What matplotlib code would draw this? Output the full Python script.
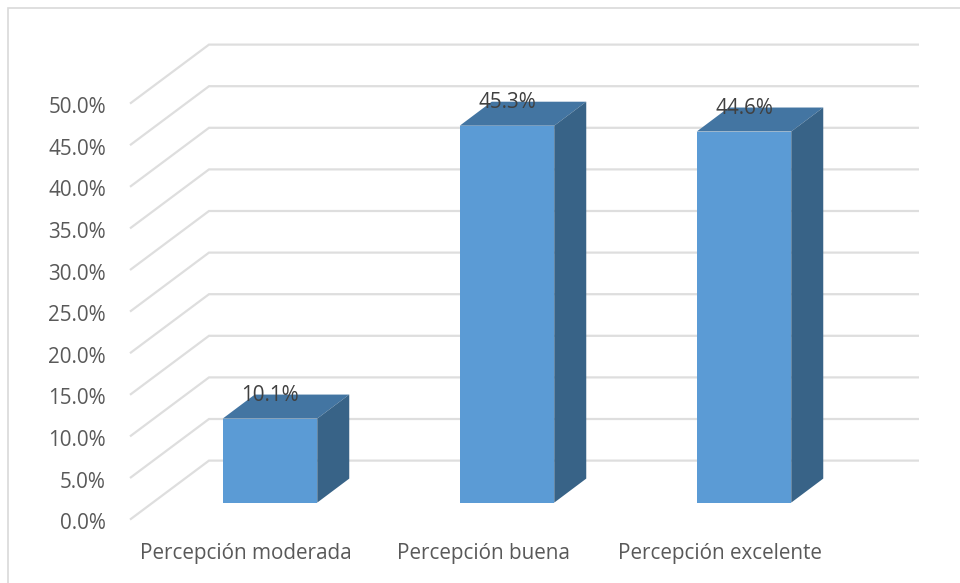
import matplotlib
matplotlib.use("Agg")
import matplotlib.pyplot as plt
from matplotlib.patches import Polygon

categories = ["Percepción moderada", "Percepción buena", "Percepción excelente"]
values = [10.1, 45.3, 44.6]
value_labels = ["10.1%", "45.3%", "44.6%"]
ticks = [0, 5, 10, 15, 20, 25, 30, 35, 40, 45, 50]
tick_labels = ["0.0%", "5.0%", "10.0%", "15.0%", "20.0%", "25.0%", "30.0%",
               "35.0%", "40.0%", "45.0%", "50.0%"]

W, H = 960, 583
FRONT = "#5B9BD5"
TOP = "#4375A2"
SIDE = "#386387"
GRID = "#DEDEDE"
FRAME = "#D9D9D9"
TEXT = "#595959"
FS = 14.9

plt.rcParams["font.family"] = ["Open Sans", "DejaVu Sans"]
fig = plt.figure(figsize=(W / 100, H / 100), dpi=100)
ax = fig.add_axes([0, 0, 1, 1])
ax.axis("off")

# Scale: category spacing 237 px, 8.32 px per percent
UX, UY = 237.0, 8.32
X0, Y0 = 507.0, 502.6
ax.set_xlim((0 - X0) / UX + 1, (W - X0) / UX + 1)
ax.set_ylim((Y0 - H) / UY, Y0 / UY)

bar_w = 94.5 / UX
dx, dy = 32 / UX, 24 / UY          # bar depth
wall_x_front = (130 - X0) / UX + 1
wall_x_back = (209 - X0) / UX + 1
wall_x_end = (919 - X0) / UX + 1
front_off = -17 / UY               # gridline front end vs. value
back_off = 42 / UY                 # gridline back end vs. value

for t, lab in zip(ticks, tick_labels):
    ax.plot([wall_x_front, wall_x_back, wall_x_end],
            [t + front_off, t + back_off, t + back_off],
            color=GRID, lw=1.6, solid_joinstyle="miter", solid_capstyle="butt", zorder=1)
    ax.text(wall_x_front - 24 / UX, t + front_off - 4 / UY, lab,
            ha="right", va="center", fontsize=FS, color=TEXT, zorder=5)

pos = list(range(len(values)))
ax.bar(pos, values, width=bar_w, color=FRONT, linewidth=0, zorder=3)
for p, v, lab, cat in zip(pos, values, value_labels, categories):
    l, r = p - bar_w / 2, p + bar_w / 2
    ax.add_patch(Polygon([(l, v), (r, v), (r + dx, v + dy), (l + dx, v + dy)],
                         closed=True, fc=TOP, ec="none", zorder=3))
    ax.add_patch(Polygon([(r, 0), (r + dx, dy), (r + dx, v + dy), (r, v)],
                         closed=True, fc=SIDE, ec="none", zorder=3))
    ax.text(p, v + 23 / UY, lab, ha="center", va="center",
            fontsize=FS, color="#404040", zorder=6)
    ax.text(p - 24 / UX, -51 / UY, cat, ha="center", va="center",
            fontsize=FS, color=TEXT, zorder=5)

# Chart frame
ax.plot([(8 - X0) / UX + 1, (8 - X0) / UX + 1, (960 - X0) / UX + 1],
        [(Y0 - 583) / UY, (Y0 - 8) / UY, (Y0 - 8) / UY],
        color=FRAME, lw=1.2, solid_joinstyle="miter", zorder=1)

fig.savefig("out.png", dpi=100, facecolor="white")
